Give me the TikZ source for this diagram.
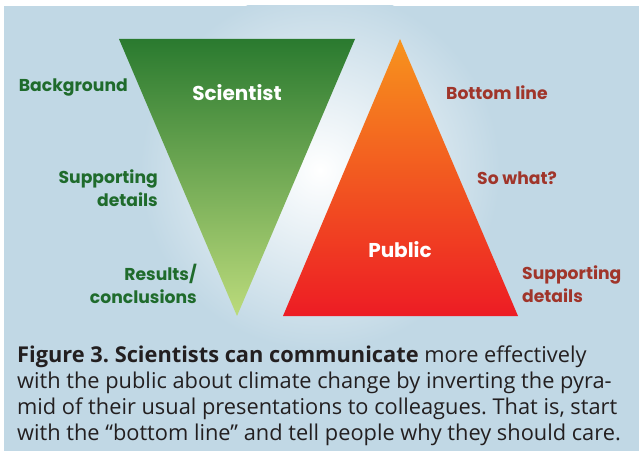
\documentclass[tikz,border=0pt]{standalone}
\usepackage{fontspec}
\usepackage{tikz}
\usetikzlibrary{calc}
\newfontfamily\labelfont{Poppins}
\newfontfamily\captionfont[Ligatures=TeX]{Open Sans}
\definecolor{bgblue}{HTML}{C1D8E5}
\definecolor{scitop}{HTML}{2A7A2F}
\definecolor{scibot}{HTML}{BCDB7C}
\definecolor{pubtop}{HTML}{F7941D}
\definecolor{pubbot}{HTML}{ED1C24}
\definecolor{scitext}{HTML}{1F6B2C}
\definecolor{pubtext}{HTML}{A0352A}
\definecolor{captext}{HTML}{231F20}
\tikzset{
    sidelabel/.style={font=\labelfont\bfseries\fontsize{17.2}{23}\selectfont, inner sep=0pt},
    scilabel/.style={sidelabel, text=scitext, align=right, anchor=east},
    publabel/.style={sidelabel, text=pubtext, align=left, anchor=west},
    title/.style={font=\labelfont\bfseries\fontsize{20}{22}\selectfont, text=white, inner sep=0pt}
}

\begin{document}
\frenchspacing
\begin{tikzpicture}[x=1pt, y=-1pt]

    \useasboundingbox (0, 0) rectangle (639, 454);
    \fill[white] (0, 0) rectangle (639, 454);
    \fill[bgblue] (4, 6) rectangle (639, 451);
    \begin{scope}
        \clip (4, 6) rectangle (639, 451);
        \shade[inner color=white, outer color=bgblue] (320, 170) circle (180);
    \end{scope}

    \shade[top color=scitop, bottom color=scibot] (119, 39) -- (355, 39) -- (237, 316) -- cycle;
    \shade[top color=pubtop, bottom color=pubbot] (400, 39) -- (518, 316) -- (283, 316) -- cycle;

    \node[title] (scientist) at (237, 93) {Scientist};
    \node[title] (public) at (400, 250) {Public};

    \node[scilabel] (background) at (128, 88) {Background};
    \node[scilabel] (scisupport) at (158, 188) {Supporting\\details};
    \node[scilabel] (results) at (197, 284) {Results/\\conclusions};

    \node[publabel] (bottomline) at (446, 93) {Bottom line};
    \node[publabel] (sowhat) at (477, 178) {So what?};
    \node[publabel] (pubsupport) at (522, 284) {Supporting\\details};

    \node[anchor=north west, inner sep=0pt, align=left, text=captext,
          font=\captionfont\fontsize{21.8}{26}\selectfont] (caption) at (17, 346)
        {\textbf{Figure 3. Scientists can communicate} more effectively\\
         with the public about climate change by inverting the pyra-\\
         mid of their usual presentations to colleagues. That is, start\\
         with the ``bottom line'' and tell people why they should care.};
\end{tikzpicture}
\end{document}
